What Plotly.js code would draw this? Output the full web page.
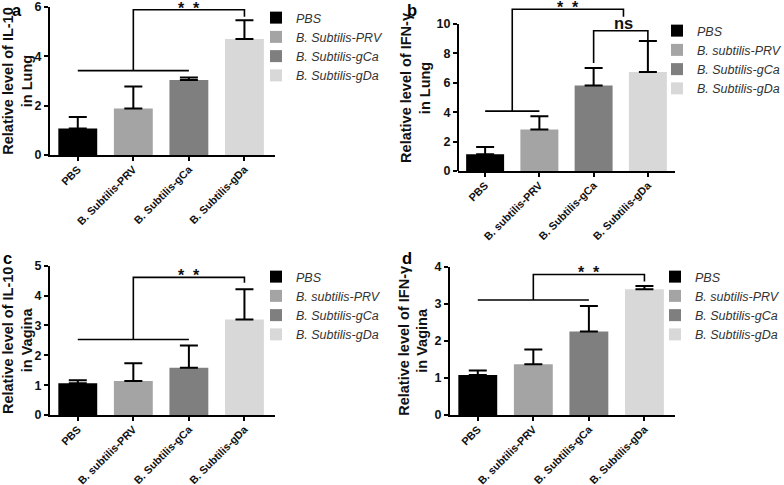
<!DOCTYPE html>
<html>
<head>
<meta charset="utf-8">
<script src="https://cdn.plot.ly/plotly-3.0.1.min.js"></script>
<style>html,body{margin:0;padding:0;background:#fff;}#chart{width:784px;height:485px;}</style>
</head>
<body>
<div id="chart"></div>
<script>
// ---- data ----
var catsA = ['PBS', 'B. Subtilis-PRV', 'B. Subtilis-gCa', 'B. Subtilis-gDa'];
var catsB = ['PBS', 'B. subtilis-PRV', 'B. Subtilis-gCa', 'B. Subtilis-gDa'];
var catsC = ['PBS', 'B. subtilis-PRV', 'B. Subtilis-gCa', 'B. Subtilis-gDa'];
var catsD = ['PBS', 'B. subtilis-PRV', 'B. Subtilis-gCa', 'B. Subtilis-gDa'];

var valsA = [1.07, 1.89, 3.04, 4.70];
var errA  = [0.47, 0.89, 0.10, 0.76];
var valsB = [1.14, 2.82, 5.82, 6.73];
var errB  = [0.50, 0.91, 1.18, 2.11];
var valsC = [1.06, 1.14, 1.58, 3.20];
var errC  = [0.10, 0.59, 0.75, 1.01];
var valsD = [1.08, 1.37, 2.25, 3.39];
var errD  = [0.12, 0.40, 0.69, 0.09];

var barColors = ['#000000', '#a4a4a4', '#7f7f7f', '#d8d8d8'];

var titleA = 'Relative level of IL-10<br>in Lung';
var titleB = 'Relative level of IFN-γ<br>in Lung';
var titleC = 'Relative level of IL-10<br>in Vagina';
var titleD = 'Relative level of IFN-γ<br>in Vagina';

// significance brackets: [lineFrom, lineTo, lineY, legX, topY, endX, endY]
var sigA = [0, 2, 3.42, 1, 5.89, 3, 5.60];
var sigB = [0, 1, 4.07, 0.5, 11.0, 2.55, 10.5];
var nsB  = [2, 7.35, 9.54, 3, 8.86];   // [leftX, leftY, topY, rightX, rightY]
var sigC = [0, 2, 2.53, 1, 4.61, 3, 4.43];
var sigD = [0, 2, 3.10, 1, 3.79, 3, 3.60];
var sigText = '*\u00a0\u00a0*';
var nsText = 'ns';
var panelLetters = ['a', 'b', 'c', 'd'];

// ---- build ----
var FONT = 'Arial, "Liberation Sans", sans-serif';
var traces = [];
function addPanel(cats, vals, errs, xa, ya, legendId) {
  for (var i = 0; i < cats.length; i++) {
    traces.push({
      type: 'bar',
      x: [cats[i]], y: [vals[i]],
      name: cats[i],
      xaxis: xa, yaxis: ya,
      legend: legendId,
      width: 0.7,
      marker: {color: barColors[i], line: {width: 0}},
      error_y: {type: 'data', array: [errs[i]], arrayminus: [0], symmetric: false,
                color: '#000', thickness: 2, width: 9},
      hoverinfo: 'x+y'
    });
  }
}
addPanel(catsA, valsA, errA, 'x', 'y', 'legend');
addPanel(catsB, valsB, errB, 'x2', 'y2', 'legend2');
addPanel(catsC, valsC, errC, 'x3', 'y3', 'legend3');
addPanel(catsD, valsD, errD, 'x4', 'y4', 'legend4');

function xAxis(domain, range, anchor) {
  return {
    domain: domain, range: range, anchor: anchor, type: 'category',
    showline: true, linewidth: 2, linecolor: '#000',
    ticks: 'outside', ticklen: 4, tickwidth: 2, tickcolor: '#000',
    tickangle: -45, showgrid: false, zeroline: false, ticklabelstandoff: -2,
    tickfont: {family: FONT, size: 10.8, color: '#111', weight: 'bold'}
  };
}
function yAxis(domain, range, tickvals, anchor, title, standoff, showline) {
  return {
    domain: domain, range: range, anchor: anchor,
    tickvals: tickvals, ticktext: tickvals.map(String),
    showline: showline, linewidth: 2, linecolor: '#000',
    ticks: 'outside', ticklen: 4, tickwidth: 2, tickcolor: '#000',
    showgrid: false, zeroline: false,
    tickfont: {family: FONT, size: 12.5, color: '#111', weight: 'bold'},
    title: {text: title, standoff: standoff,
            font: {family: FONT, size: 14.5, color: '#111', weight: 'bold'}}
  };
}
function legendAt(x, y) {
  return {x: x, y: y, xanchor: 'left', yanchor: 'top', bgcolor: 'rgba(0,0,0,0)',
          font: {family: FONT, size: 12.5, color: '#333', style: 'italic'}, tracegroupgap: 0};
}

function bracket(s, xr, yr) {
  return [
    {type: 'line', xref: xr, yref: yr, x0: s[0], x1: s[1], y0: s[2], y1: s[2], line: {color: '#000', width: 1.6}},
    {type: 'path', xref: xr, yref: yr,
     path: 'M' + s[3] + ',' + s[2] + ' L' + s[3] + ',' + s[4] + ' L' + s[5] + ',' + s[4] + ' L' + s[5] + ',' + s[6],
     line: {color: '#000', width: 1.6}}
  ];
}

var shapes = [].concat(
  bracket(sigA, 'x', 'y'),
  bracket(sigB, 'x2', 'y2'),
  bracket(sigC, 'x3', 'y3'),
  bracket(sigD, 'x4', 'y4'),
  [{type: 'path', xref: 'x2', yref: 'y2',
    path: 'M' + nsB[0] + ',' + nsB[1] + ' L' + nsB[0] + ',' + nsB[2] + ' L' + nsB[3] + ',' + nsB[2] + ' L' + nsB[3] + ',' + nsB[4],
    line: {color: '#000', width: 1.6}},
   // y axis line of panel b (only up to the top tick)
   {type: 'line', xref: 'x2 domain', yref: 'y2', x0: 0, x1: 0, y0: 0, y1: 10,
    line: {color: '#000', width: 2}}]
);

function starAnn(s, xr, yr) {
  return {xref: xr, yref: yr, x: (s[3] + s[5]) / 2, y: s[4], text: sigText, showarrow: false,
          xanchor: 'center', yanchor: 'bottom', yshift: -8, borderpad: 0,
          font: {family: FONT, size: 16, color: '#111', weight: 'bold'}};
}
var letterFont = {family: FONT, size: 16.5, color: '#000', weight: 'bold'};
var annotations = [
  starAnn(sigA, 'x', 'y'), starAnn(sigB, 'x2', 'y2'), starAnn(sigC, 'x3', 'y3'), starAnn(sigD, 'x4', 'y4'),
  {xref: 'x2', yref: 'y2', x: sigB[5], y: nsB[2], text: nsText, showarrow: false,
   xanchor: 'center', yanchor: 'bottom', yshift: -3,
   font: {family: FONT, size: 16.5, color: '#111', weight: 'bold'}},
  {xref: 'paper', yref: 'paper', x: 17 / 784, y: 1, text: panelLetters[0], showarrow: false, xanchor: 'center', yanchor: 'top', borderpad: 0, font: letterFont},
  {xref: 'paper', yref: 'paper', x: 412 / 784, y: 1 - 10 / 485, text: panelLetters[1], showarrow: false, xanchor: 'center', yanchor: 'middle', borderpad: 0, font: letterFont},
  {xref: 'paper', yref: 'paper', x: 7 / 784, y: 1 - 258 / 485, text: panelLetters[2], showarrow: false, xanchor: 'center', yanchor: 'middle', font: letterFont},
  {xref: 'paper', yref: 'paper', x: 407 / 784, y: 1 - 258 / 485, text: panelLetters[3], showarrow: false, xanchor: 'center', yanchor: 'middle', font: letterFont}
];

var layout = {
  width: 784, height: 485,
  margin: {l: 0, r: 0, t: 0, b: 0, autoexpand: false},
  paper_bgcolor: '#fff', plot_bgcolor: 'rgba(0,0,0,0)',
  barmode: 'overlay',
  showlegend: true,
  font: {family: FONT, color: '#111'},
  xaxis:  xAxis([50 / 784, 275 / 784], [-0.5, 3.55], 'y'),
  yaxis:  yAxis([1 - 155 / 485, 1 - 7 / 485], [0, 6], [0, 2, 4, 6], 'x', titleA, 12, true),
  xaxis2: xAxis([458 / 784, 675 / 784], [-0.5, 3.5], 'y2'),
  yaxis2: yAxis([1 - 171 / 485, 1 - 4.9 / 485], [0, 11.3], [0, 2, 4, 6, 8, 10], 'x2', titleB, 2, false),
  xaxis3: xAxis([50 / 784, 275 / 784], [-0.5, 3.55], 'y3'),
  yaxis3: yAxis([1 - 415 / 485, 1 - 265.7 / 485], [0, 5], [0, 1, 2, 3, 4, 5], 'x3', titleC, 12, true),
  xaxis4: xAxis([450 / 784, 675 / 784], [-0.5, 3.55], 'y4'),
  yaxis4: yAxis([1 - 415 / 485, 1 - 266.7 / 485], [0, 4], [0, 1, 2, 3, 4], 'x4', titleD, 3, true),
  legend:  legendAt(256 / 784, 1 - 3 / 485),
  legend2: legendAt(657 / 784, 1 - 16 / 485),
  legend3: legendAt(256 / 784, 1 - 262 / 485),
  legend4: legendAt(655 / 784, 1 - 262 / 485),
  shapes: shapes,
  annotations: annotations
};

Plotly.newPlot('chart', traces, layout, {displayModeBar: false, staticPlot: true});
</script>
</body>
</html>
